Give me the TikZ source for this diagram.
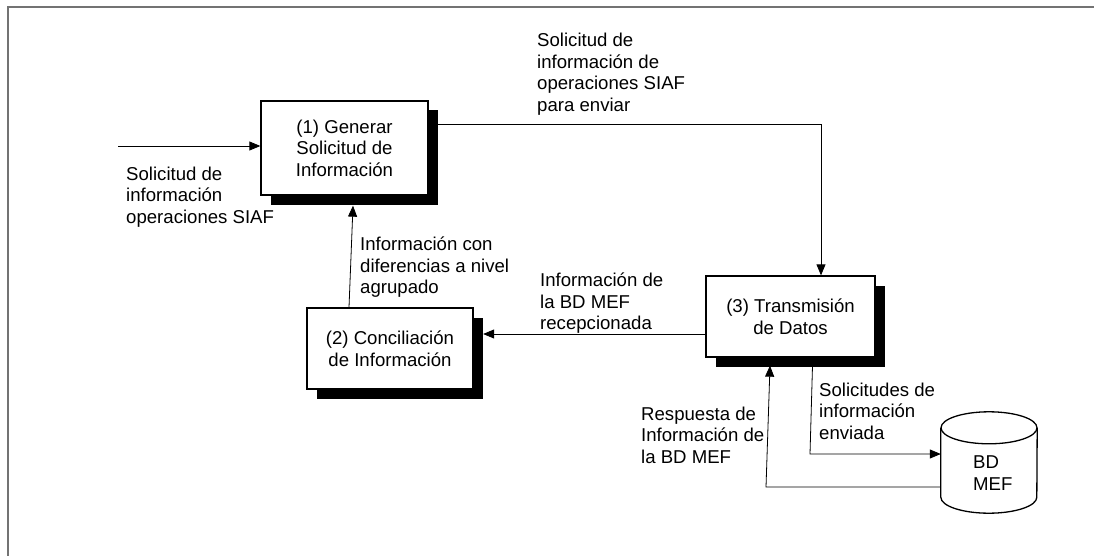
\documentclass[tikz,border=0pt]{standalone}
\usepackage{fontspec}
\setmainfont{Liberation Sans}
\usetikzlibrary{arrows.meta,shadows,calc}
\newcommand\dfont{\fontsize{18.6}{21.5}\selectfont}
\begin{document}
\begin{tikzpicture}[x=1pt,y=-1pt,
  proc/.style={draw=black, line width=1.3pt, fill=white, align=center, inner sep=0pt, font=\dfont,
    drop shadow={opacity=1, fill=black, shadow xshift=9.5pt, shadow yshift=-9.5pt}},
  lbl/.style={align=left, anchor=north west, inner sep=0pt, font=\dfont},
  arr/.style={line width=0.8pt, -{Triangle[length=11pt,width=9pt]}},
  frame/.style={draw=black!55, line width=1.5pt}]
\useasboundingbox (0,0) rectangle (1094,556);
\draw[frame] (1094,7) -- (8,7) -- (8,556);

% process boxes
\node[proc, minimum width=167pt, minimum height=94pt] (b1) at (344.5,148) {(1) Generar\\Solicitud de\\Información};
\node[proc, minimum width=166pt, minimum height=81pt] (b2) at (390,348.5) {(2) Conciliación\\de Información};
\node[proc, minimum width=169pt, minimum height=81pt] (b3) at (790.5,316.5) {(3) Transmisión\\de Datos};

% data store
\node[minimum width=96pt, minimum height=101pt, inner sep=0pt] (db) at (989,462.5) {};
\draw[line width=1.3pt, fill=white] ([yshift=-16pt]db.north west) -- ([yshift=16pt]db.south west)
  arc[start angle=180, end angle=360, x radius=48pt, y radius=16pt] -- ([yshift=-16pt]db.north east);
\draw[line width=1.3pt] ([yshift=-16pt]db.north) ellipse [x radius=48pt, y radius=16pt];
\node[lbl] (dbt) at (973,455.6) {BD\\MEF};

% connectors
\coordinate (in) at (118,146);
\draw[arr] (in) -- (in -| b1.west);

\coordinate (c1) at (821,124);
\draw[arr] (b1.east |- c1) -- (c1) -- (c1 |- b3.north);

\draw[arr] ([xshift=-41pt]b2.north) -- ([xshift=8.5pt,yshift=-10pt]b1.south);

\coordinate (c3) at (0,334);
\draw[arr] (b3.west |- c3) -- ($(b2.east |- c3)+(9.5,0)$);

\coordinate (c5) at (810,454);
\draw[arr] ([xshift=22pt,yshift=-8pt]b3.south) -- (c5) -- (db.west |- c5);

\coordinate (c6) at (766,487);
\draw[arr] (db.west |- c6) -- (c6) -- ($(b3.south)+(-20.5,8)$);

% labels
\node[lbl] (t1) at (126,166.5) {Solicitud de\\información\\operaciones SIAF};
\node[lbl] (t2) at (537,33) {Solicitud de\\información de\\operaciones SIAF\\para enviar};
\node[lbl] (t3) at (360,237) {Información con\\diferencias a nivel\\agrupado};
\node[lbl] (t4) at (540,273) {Información de\\la BD MEF\\recepcionada};
\node[lbl] (t5) at (819,382.5) {Solicitudes de\\información\\enviada};
\node[lbl] (t6) at (641,406.5) {Respuesta de\\Información de\\la BD MEF};
\end{tikzpicture}
\end{document}
